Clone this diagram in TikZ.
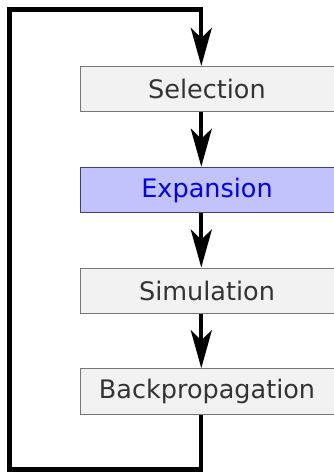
\documentclass[tikz,border=0pt]{standalone}
\usepackage{fontspec}
\setmainfont{DejaVu Sans}
\usetikzlibrary{arrows.meta}
\definecolor{boxfill}{HTML}{F2F2F2}
\definecolor{boxline}{HTML}{777777}
\definecolor{txt}{HTML}{333333}
\definecolor{expfill}{HTML}{C2C2FC}
\definecolor{expline}{HTML}{404070}
\definecolor{exptxt}{HTML}{0000F0}
\begin{document}
\begin{tikzpicture}[x=1pt,y=-1pt,
  stage/.style={draw=boxline, line width=1pt, fill=boxfill, text=txt, rectangle,
    minimum width=254pt, minimum height=45.5pt, inner sep=0pt,
    font=\fontsize{25.5pt}{30pt}\selectfont},
  current/.style={stage, draw=expline, fill=expfill, text=exptxt},
  flow/.style={line width=4.3pt, line join=miter,
    -{Stealth[length=38pt,width=21pt,inset=10pt]}}]
\useasboundingbox (0,0) rectangle (333,472);
\node[stage]   (sel) at (207,89.2)  {Selection};
\node[current] (exp) at (207,190)   {Expansion};
\node[stage]   (sim) at (207,290.8) {Simulation};
\node[stage]   (bp)  at (207,391.5) {Backpropagation};
\coordinate (tl) at (9.5,9.5);
\coordinate (tr) at (201.3,9.5);
\coordinate (bl) at (9.5,469.5);
\coordinate (br) at (201.3,469.5);
\draw[flow] (sel.south -| tr) -- (exp.north -| tr);
\draw[flow] (exp.south -| tr) -- (sim.north -| tr);
\draw[flow] (sim.south -| tr) -- (bp.north -| tr);
\draw[flow] (bp.south -| br) -- (br) -- (bl) -- (tl) -- (tr) -- (sel.north -| tr);
\end{tikzpicture}
\end{document}
